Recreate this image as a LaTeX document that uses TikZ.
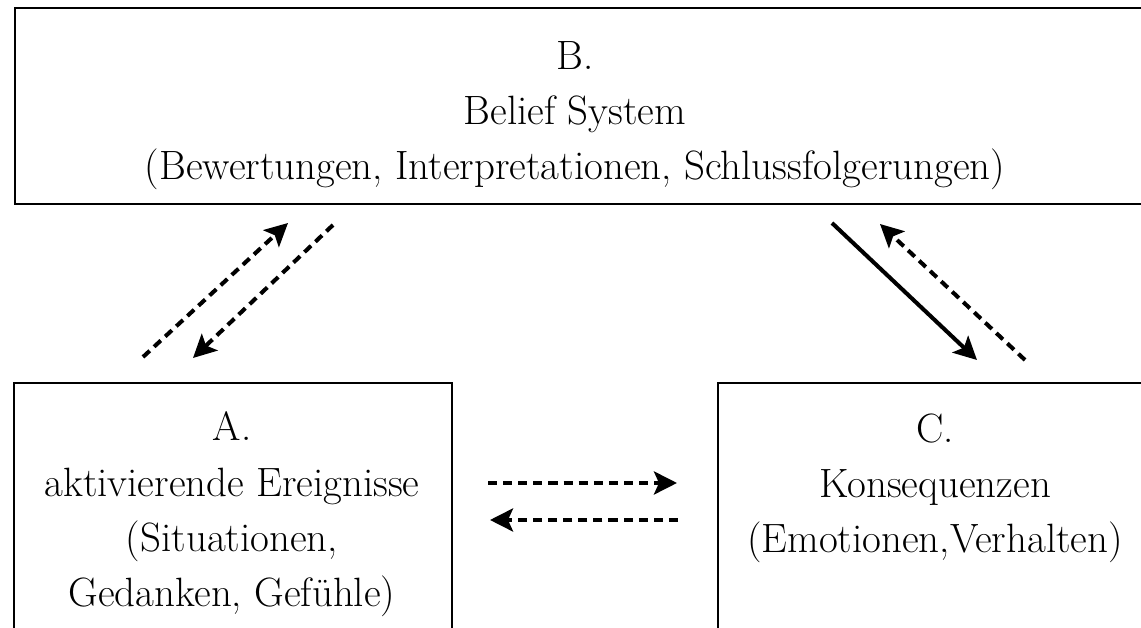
\documentclass[tikz,border=0pt]{standalone}
\usepackage{tikz}
\usetikzlibrary{arrows.meta}

\tikzset{
  frame/.style={draw, line width=1.4pt, inner sep=0pt},
  txt/.style={align=center, font=\fontsize{23.3}{31.5}\selectfont},
  pfeil/.style={line width=2.3pt, -{Stealth[length=0.46cm, width=0.46cm, inset=0.1cm]}},
  gestrichelt/.style={pfeil, dash pattern=on 5.2pt off 3.4pt}
}

\begin{document}
\begin{tikzpicture}

\useasboundingbox (0,0) rectangle (22.82,12.56);
\clip (0,0) rectangle (22.82,12.56);

\node[frame, minimum width=22.92cm, minimum height=3.92cm, anchor=north west] (boxB) at (0.28,12.42) {};
\node[frame, minimum width=8.76cm, minimum height=5.36cm, anchor=north west] (boxA) at (0.26,4.92) {};
\node[frame, minimum width=8.86cm, minimum height=5.36cm, anchor=north west] (boxC) at (14.34,4.92) {};

% base = baseline of the last line
\node[txt, anchor=base] (B) at (11.5,8.96) {B.\\Belief System\\(Bewertungen, Interpretationen, Schlussfolgerungen)};
\node[txt, anchor=base] (A) at (4.64,0.42) {A.\\aktivierende Ereignisse\\(Situationen,\\Gedanken, Gef\"uhle)};
\node[txt, anchor=base] (C) at (18.7,1.5) {C.\\Konsequenzen\\(Emotionen,Verhalten)};

\coordinate (ab1) at (2.86,5.42);
\coordinate (ab2) at (5.76,8.1);
\coordinate (ba1) at (6.66,8.06);
\coordinate (ba2) at (3.86,5.4);
\coordinate (bc1) at (16.64,8.1);
\coordinate (bc2) at (19.54,5.36);
\coordinate (cb1) at (20.5,5.36);
\coordinate (cb2) at (17.6,8.08);
\coordinate (ac1) at (9.76,2.9);
\coordinate (ac2) at (13.54,2.9);
\coordinate (ca1) at (13.56,2.16);
\coordinate (ca2) at (9.8,2.16);

\draw[gestrichelt] (ab1) -- (ab2);
\draw[gestrichelt] (ba1) -- (ba2);
\draw[pfeil] (bc1) -- (bc2);
\draw[gestrichelt] (cb1) -- (cb2);
\draw[gestrichelt] (ac1) -- (ac2);
\draw[gestrichelt] (ca1) -- (ca2);

\end{tikzpicture}
\end{document}
